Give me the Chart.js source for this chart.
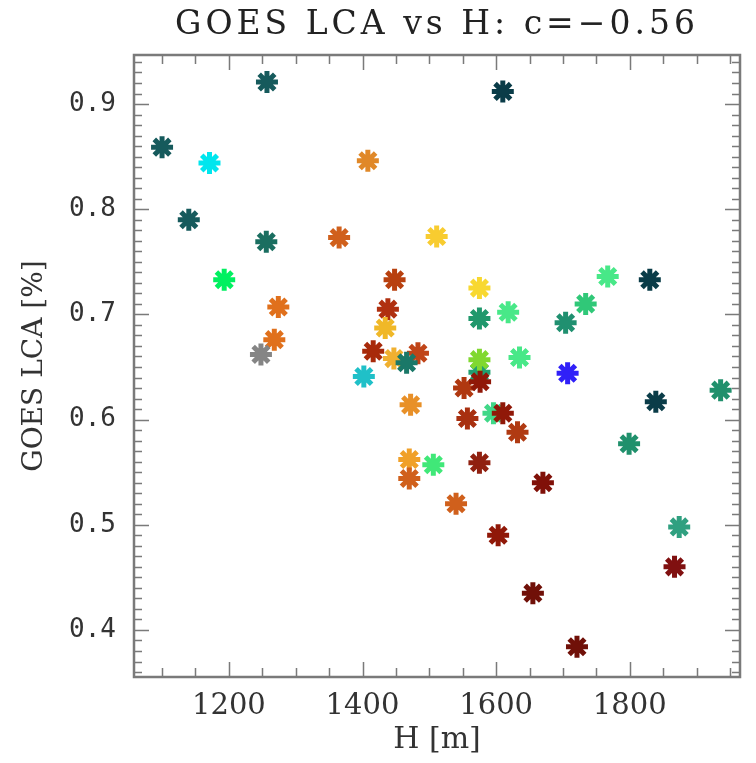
<!DOCTYPE html>
<html><head><meta charset="utf-8">
<script src="https://cdn.jsdelivr.net/npm/chart.js@4"></script>
<style>html,body{margin:0;padding:0;background:#fff}</style>
</head><body>
<canvas id="c" width="756" height="763"></canvas>
<script>
// Data
const heightM = [1257,1100,1171,1408,1140,1256,1365,1511,1193,1448,1274,1438,1434,1268,1248,1416,1447,1483,1466,1402,1472,1470,1470,1506,1575,1618,1704,1734,1767,1830,1575,1575,1575,1635,1707,1552,1576,1839,1936,1557,1596,1610,1632,1799,1575,1670,1540,1603,1874,1867,1655,1721,1610];
const lcaPct  = [0.921,0.859,0.844,0.846,0.790,0.769,0.773,0.774,0.733,0.733,0.707,0.705,0.687,0.676,0.662,0.665,0.658,0.663,0.654,0.641,0.614,0.562,0.544,0.557,0.696,0.702,0.692,0.710,0.736,0.733,0.725,0.645,0.657,0.659,0.644,0.630,0.636,0.617,0.628,0.601,0.606,0.606,0.588,0.577,0.559,0.540,0.520,0.490,0.498,0.460,0.435,0.384,0.912];
const pointColors = ['#165a5c','#165a5c','#00e6ee','#e08828','#165a5c','#1a6e60','#d0601c','#f8cc30','#00f060','#b8400f','#e0701c','#b03010','#f0b828','#e0701c','#858585','#a82a0a','#f0b030','#c04418','#1a7868','#20c0c8','#e89028','#f0a028','#d0601c','#40e878','#20986c','#48e888','#209070','#30c878','#48e888','#0a3c48','#f8d830','#20a070','#80d830','#48e888','#3020f8','#b03810','#901808','#0a3c48','#20906c','#a83010','#40d888','#901808','#b03a12','#20906c','#902010','#801008','#d0601c','#901808','#30a080','#801010','#701008','#701008','#0a3c48'];
const xTickValues = [1200,1400,1600,1800];
const yTickValues = [0.4,0.5,0.6,0.7,0.8,0.9];
const xRange = [1058, 1965];
const yRange = [0.3553, 0.9466];
const titleText = 'GOES LCA vs H: c=\u22120.56';
const xTitle = 'H [m]';
const yTitle = 'GOES LCA [%]';

const points = heightM.map((h, i) => ({x: h, y: lcaPct[i]}));

const frameTicks = {
  id: 'frameTicks',
  beforeDraw(chart) { chart.ctx.letterSpacing = '4px'; },
  beforeDatasetsDraw(chart) {
    const {ctx, chartArea: a, scales: {x, y}} = chart;
    ctx.letterSpacing = '0px';
    ctx.save();
    ctx.strokeStyle = '#7a7a7a';
    ctx.lineWidth = 1.5;
    ctx.beginPath();
    for (let v = Math.ceil(x.min / 50) * 50; v <= x.max; v += 50) {
      const px = Math.round(x.getPixelForValue(v)) + 0.5;
      const len = (v % 200 === 0) ? 15 : 9;
      ctx.moveTo(px, a.bottom); ctx.lineTo(px, a.bottom - len);
      ctx.moveTo(px, a.top); ctx.lineTo(px, a.top + len);
    }
    for (let i = Math.ceil(y.min * 100); i <= Math.floor(y.max * 100); i++) {
      const py = Math.round(y.getPixelForValue(i / 100)) + 0.5;
      const len = (i % 10 === 0) ? 15 : 8;
      ctx.moveTo(a.left, py); ctx.lineTo(a.left + len, py);
      ctx.moveTo(a.right, py); ctx.lineTo(a.right - len, py);
    }
    ctx.stroke();
    ctx.lineWidth = 2.5;
    ctx.strokeRect(a.left, a.top, a.right - a.left, a.bottom - a.top);
    ctx.restore();
  }
};

new Chart(document.getElementById('c'), {
  type: 'scatter',
  data: { datasets: [{
    data: points,
    pointStyle: 'star',
    pointRadius: 11,
    pointHoverRadius: 11,
    pointBorderWidth: 5,
    pointBackgroundColor: pointColors,
    pointBorderColor: pointColors
  }]},
  options: {
    responsive: false,
    animation: false,
    layout: { padding: { left: 0, right: 13, top: 0, bottom: 0 } },
    plugins: {
      legend: { display: false },
      tooltip: { enabled: false },
      title: {
        display: true, text: titleText, color: '#222', fullSize: false,
        font: { family: 'DejaVu Serif', size: 33, weight: 'normal', lineHeight: 1.2 },
        padding: { top: 6, bottom: 9.4 }
      }
    },
    scales: {
      x: {
        type: 'linear', min: xRange[0], max: xRange[1],
        afterFit(s) { s.height = 86; },
        afterBuildTicks(s) { s.ticks = xTickValues.map(v => ({value: v})); },
        grid: { display: false, drawTicks: false, z: 1 },
        border: { display: false, z: 1 },
        ticks: { z: 1, padding: 12, color: '#333', maxRotation: 0,
          font: { family: 'DejaVu Serif', size: 29 },
          callback: v => String(v) },
        title: { display: true, text: xTitle, color: '#333',
          font: { family: 'DejaVu Serif', size: 30, lineHeight: 1.2 },
          padding: { top: 0, bottom: 5 } }
      },
      y: {
        type: 'linear', min: yRange[0], max: yRange[1],
        afterFit(s) { s.width = 134; },
        afterBuildTicks(s) { s.ticks = yTickValues.map(v => ({value: v})); },
        grid: { display: false, drawTicks: false, z: 1 },
        border: { display: false, z: 1 },
        ticks: { z: 1, padding: 18, color: '#333',
          font: { family: 'DejaVu Sans Mono', size: 26 },
          callback: v => v.toFixed(1) },
        title: { display: true, text: yTitle, color: '#333',
          font: { family: 'DejaVu Serif', size: 28, lineHeight: 1.2 },
          padding: { top: 18, bottom: 0 } }
      }
    }
  },
  plugins: [frameTicks]
});
</script>
</body></html>
